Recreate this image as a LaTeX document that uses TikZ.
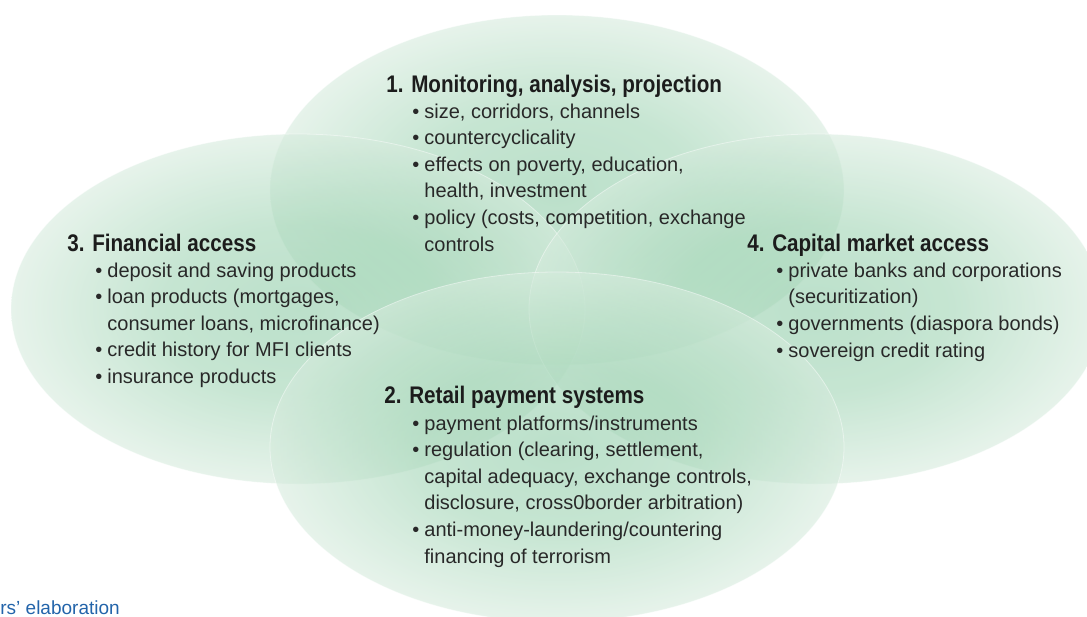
\documentclass[tikz,border=0pt]{standalone}
\usepackage{fontspec}
\setmainfont{Liberation Sans}
\newfontfamily\headfont[FakeStretch=0.86]{Liberation Sans}
\definecolor{ginner}{RGB}{142,203,167}
\definecolor{gmid}{RGB}{160,212,180}
\definecolor{gouter}{RGB}{214,235,221}
\definecolor{txt}{RGB}{40,40,40}
\definecolor{headtxt}{RGB}{28,28,28}
\definecolor{srcblue}{RGB}{35,100,170}
\pgfdeclareradialshading{ellshade}{\pgfpoint{0bp}{0bp}}{color(0bp)=(ginner); color(12bp)=(gmid); color(25bp)=(gouter); color(50bp)=(gouter)}
\newcommand{\bul}{\makebox[6pt][l]{\textbullet}}
\newcommand{\cont}{\hspace*{6pt}}
\begin{document}
\begin{tikzpicture}[x=0.5pt,y=-0.5pt,
  blob/.style={shading=ellshade, fill opacity=0.6, draw=white, draw opacity=0.45, line width=0.4pt},
  head/.style={anchor=base west, inner sep=0pt, font=\headfont\bfseries\fontsize{12}{14}\selectfont, text=headtxt},
  items/.style={anchor=base west, inner sep=0pt, align=left, font=\fontsize{10}{13.3}\selectfont, text=txt}]
\useasboundingbox (0,0) rectangle (1087,616);
% ellipses
\path[blob] (557,190) ellipse [x radius=143.5pt, y radius=87.5pt];
\path[blob] (298,309) ellipse [x radius=143.5pt, y radius=87.5pt];
\path[blob] (816,309) ellipse [x radius=143.5pt, y radius=87.5pt];
\path[blob] (557,447) ellipse [x radius=143.5pt, y radius=87.5pt];
% block 1 (items node anchored at the baseline of its last line)
\node[head] (h1) at (386,92) {1. Monitoring, analysis, projection};
\node[items] (l1) at (412,251) {\bul size, corridors, channels\\
\bul countercyclicality\\
\bul effects on poverty, education,\\
\cont health, investment\\
\bul policy (costs, competition, exchange\\
\cont controls};
% block 3
\node[head] (h3) at (67,251) {3. Financial access};
\node[items] (l3) at (95,383.5) {\bul deposit and saving products\\
\bul loan products (mortgages,\\
\cont consumer loans, microfinance)\\
\bul credit history for MFI clients\\
\bul insurance products};
% block 4
\node[head] (h4) at (747,251) {4. Capital market access};
\node[items] (l4) at (776,357) {\bul private banks and corporations\\
\cont (securitization)\\
\bul governments (diaspora bonds)\\
\bul sovereign credit rating};
% block 2
\node[head] (h2) at (384,403) {2. Retail payment systems};
\node[items] (l2) at (412,563) {\bul payment platforms/instruments\\
\bul regulation (clearing, settlement,\\
\cont capital adequacy, exchange controls,\\
\cont disclosure, cross0border arbitration)\\
\bul anti-money-laundering/countering\\
\cont financing of terrorism};
% source
\node[anchor=base west, inner sep=0pt, font=\fontsize{9.5}{11}\selectfont, text=srcblue] (src) at (0,614) {rs’ elaboration};
\end{tikzpicture}
\end{document}
